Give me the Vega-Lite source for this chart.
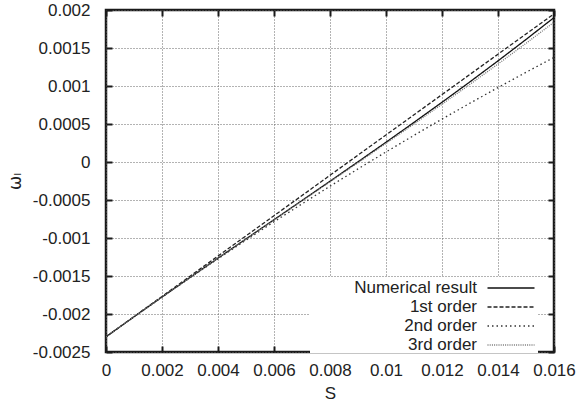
{
  "$schema": "https://vega.github.io/schema/vega-lite/v6.json",
  "width": 448,
  "height": 342,
  "autosize": {"type": "none"},
  "padding": {"left": 106, "top": 10, "right": 25, "bottom": 52},
  "background": "white",
  "config": {
    "view": {"stroke": "#1a1a1a", "strokeWidth": 2.5},
    "font": "Liberation Sans",
    "axis": {
      "labelFont": "Liberation Sans",
      "labelFontSize": 17,
      "labelColor": "#222",
      "labelOverlap": false,
      "labelFlush": false,
      "titleFont": "Liberation Sans",
      "titleFontSize": 17,
      "titleFontWeight": "normal",
      "titleColor": "#222",
      "domain": false,
      "tickColor": "#1a1a1a",
      "tickWidth": 2,
      "gridColor": "#666",
      "gridDash": [1, 2],
      "gridWidth": 1,
      "gridOpacity": 1
    },
    "legend": {
      "title": null,
      "orient": "none",
      "legendX": 204,
      "legendY": 267,
      "symbolType": "M-2.35,0H2.35",
      "symbolSize": 400,
      "symbolOffset": 190,
      "symbolStrokeWidth": 1.3,
      "labelAlign": "right",
      "labelOffset": -45,
      "labelFont": "Liberation Sans",
      "labelFontSize": 17,
      "labelColor": "#222",
      "labelLimit": 300,
      "rowPadding": -1,
      "fillColor": "white",
      "padding": 0
    }
  },
  "data": {
    "values": [
      {"s": 0, "w": -0.0023, "series": "Numerical result"},
      {"s": 0.001, "w": -0.0020365, "series": "Numerical result"},
      {"s": 0.002, "w": -0.0017768, "series": "Numerical result"},
      {"s": 0.003, "w": -0.0015199, "series": "Numerical result"},
      {"s": 0.004, "w": -0.0012652, "series": "Numerical result"},
      {"s": 0.005, "w": -0.001012, "series": "Numerical result"},
      {"s": 0.006, "w": -0.0007593, "series": "Numerical result"},
      {"s": 0.007, "w": -0.0005067, "series": "Numerical result"},
      {"s": 0.008, "w": -0.0002531, "series": "Numerical result"},
      {"s": 0.009, "w": 0.0000023, "series": "Numerical result"},
      {"s": 0.010, "w": 0.00026, "series": "Numerical result"},
      {"s": 0.011, "w": 0.000521, "series": "Numerical result"},
      {"s": 0.012, "w": 0.0007858, "series": "Numerical result"},
      {"s": 0.013, "w": 0.0010554, "series": "Numerical result"},
      {"s": 0.014, "w": 0.0013306, "series": "Numerical result"},
      {"s": 0.015, "w": 0.001612, "series": "Numerical result"},
      {"s": 0.016, "w": 0.0019005, "series": "Numerical result"},
      {"s": 0, "w": -0.0023, "series": "1st order"},
      {"s": 0.001, "w": -0.0020344, "series": "1st order"},
      {"s": 0.002, "w": -0.0017688, "series": "1st order"},
      {"s": 0.003, "w": -0.0015032, "series": "1st order"},
      {"s": 0.004, "w": -0.0012376, "series": "1st order"},
      {"s": 0.005, "w": -0.000972, "series": "1st order"},
      {"s": 0.006, "w": -0.0007064, "series": "1st order"},
      {"s": 0.007, "w": -0.0004408, "series": "1st order"},
      {"s": 0.008, "w": -0.0001752, "series": "1st order"},
      {"s": 0.009, "w": 0.0000904, "series": "1st order"},
      {"s": 0.010, "w": 0.000356, "series": "1st order"},
      {"s": 0.011, "w": 0.0006216, "series": "1st order"},
      {"s": 0.012, "w": 0.0008872, "series": "1st order"},
      {"s": 0.013, "w": 0.0011528, "series": "1st order"},
      {"s": 0.014, "w": 0.0014184, "series": "1st order"},
      {"s": 0.015, "w": 0.001684, "series": "1st order"},
      {"s": 0.016, "w": 0.0019496, "series": "1st order"},
      {"s": 0, "w": -0.0023, "series": "2nd order"},
      {"s": 0.001, "w": -0.0020366, "series": "2nd order"},
      {"s": 0.002, "w": -0.0017778, "series": "2nd order"},
      {"s": 0.003, "w": -0.0015234, "series": "2nd order"},
      {"s": 0.004, "w": -0.0012734, "series": "2nd order"},
      {"s": 0.005, "w": -0.001028, "series": "2nd order"},
      {"s": 0.006, "w": -0.000787, "series": "2nd order"},
      {"s": 0.007, "w": -0.0005506, "series": "2nd order"},
      {"s": 0.008, "w": -0.0003186, "series": "2nd order"},
      {"s": 0.009, "w": -0.000091, "series": "2nd order"},
      {"s": 0.010, "w": 0.000132, "series": "2nd order"},
      {"s": 0.011, "w": 0.0003506, "series": "2nd order"},
      {"s": 0.012, "w": 0.0005646, "series": "2nd order"},
      {"s": 0.013, "w": 0.0007742, "series": "2nd order"},
      {"s": 0.014, "w": 0.0009794, "series": "2nd order"},
      {"s": 0.015, "w": 0.00118, "series": "2nd order"},
      {"s": 0.016, "w": 0.0013762, "series": "2nd order"},
      {"s": 0, "w": -0.0023, "series": "3rd order"},
      {"s": 0.001, "w": -0.0020365, "series": "3rd order"},
      {"s": 0.002, "w": -0.001777, "series": "3rd order"},
      {"s": 0.003, "w": -0.0015203, "series": "3rd order"},
      {"s": 0.004, "w": -0.0012662, "series": "3rd order"},
      {"s": 0.005, "w": -0.0010139, "series": "3rd order"},
      {"s": 0.006, "w": -0.0007626, "series": "3rd order"},
      {"s": 0.007, "w": -0.0005118, "series": "3rd order"},
      {"s": 0.008, "w": -0.0002607, "series": "3rd order"},
      {"s": 0.009, "w": -0.0000086, "series": "3rd order"},
      {"s": 0.010, "w": 0.000245, "series": "3rd order"},
      {"s": 0.011, "w": 0.000501, "series": "3rd order"},
      {"s": 0.012, "w": 0.0007599, "series": "3rd order"},
      {"s": 0.013, "w": 0.0010225, "series": "3rd order"},
      {"s": 0.014, "w": 0.0012895, "series": "3rd order"},
      {"s": 0.015, "w": 0.0015614, "series": "3rd order"},
      {"s": 0.016, "w": 0.001839, "series": "3rd order"}
    ]
  },
  "resolve": {"axis": {"x": "independent", "y": "independent"}},
  "layer": [
    {
      "mark": {"type": "line", "strokeWidth": 1.3, "clip": true},
      "encoding": {
        "x": {
          "field": "s", "type": "quantitative",
          "scale": {"domain": [0, 0.016], "nice": false, "zero": false},
          "axis": {
            "orient": "bottom",
            "values": [0, 0.002, 0.004, 0.006, 0.008, 0.01, 0.012, 0.014, 0.016],
            "labelExpr": "replace(format(datum.value, '~g'), '\u2212', '-')",
            "grid": true,
            "tickSize": -6,
            "labelPadding": 16,
            "title": "S",
            "titleY": 41,
            "titleBaseline": "middle"
          }
        },
        "y": {
          "field": "w", "type": "quantitative",
          "scale": {"domain": [-0.0025, 0.002], "nice": false, "zero": false},
          "axis": {
            "orient": "left",
            "values": [-0.0025, -0.002, -0.0015, -0.001, -0.0005, 0, 0.0005, 0.001, 0.0015, 0.002],
            "labelExpr": "replace(format(datum.value, '~g'), '\u2212', '-')",
            "grid": true,
            "tickSize": -6,
            "labelPadding": 22,
            "title": "ωₗ",
            "titleFont": "DejaVu Sans",
            "titleX": -91,
            "titleY": 171,
            "titleAngle": -90,
            "titleBaseline": "middle"
          }
        },
        "strokeDash": {
          "field": "series", "type": "nominal",
          "scale": {
            "domain": ["Numerical result", "1st order", "2nd order", "3rd order"],
            "range": [[1, 0], [4, 2], [1.5, 3], [1, 1.2]]
          }
        },
        "color": {
          "field": "series", "type": "nominal",
          "scale": {
            "domain": ["Numerical result", "1st order", "2nd order", "3rd order"],
            "range": ["#111", "#222", "#333", "#777"]
          }
        }
      }
    },
    {
      "mark": {"type": "point", "opacity": 0},
      "encoding": {
        "x": {
          "field": "s", "type": "quantitative",
          "axis": {
            "orient": "top",
            "values": [0, 0.002, 0.004, 0.006, 0.008, 0.01, 0.012, 0.014, 0.016],
            "labels": false,
            "grid": false,
            "tickSize": -6,
            "title": null
          }
        },
        "y": {
          "field": "w", "type": "quantitative",
          "axis": {
            "orient": "right",
            "values": [-0.0025, -0.002, -0.0015, -0.001, -0.0005, 0, 0.0005, 0.001, 0.0015, 0.002],
            "labels": false,
            "grid": false,
            "tickSize": -6,
            "title": null
          }
        }
      }
    }
  ]
}
